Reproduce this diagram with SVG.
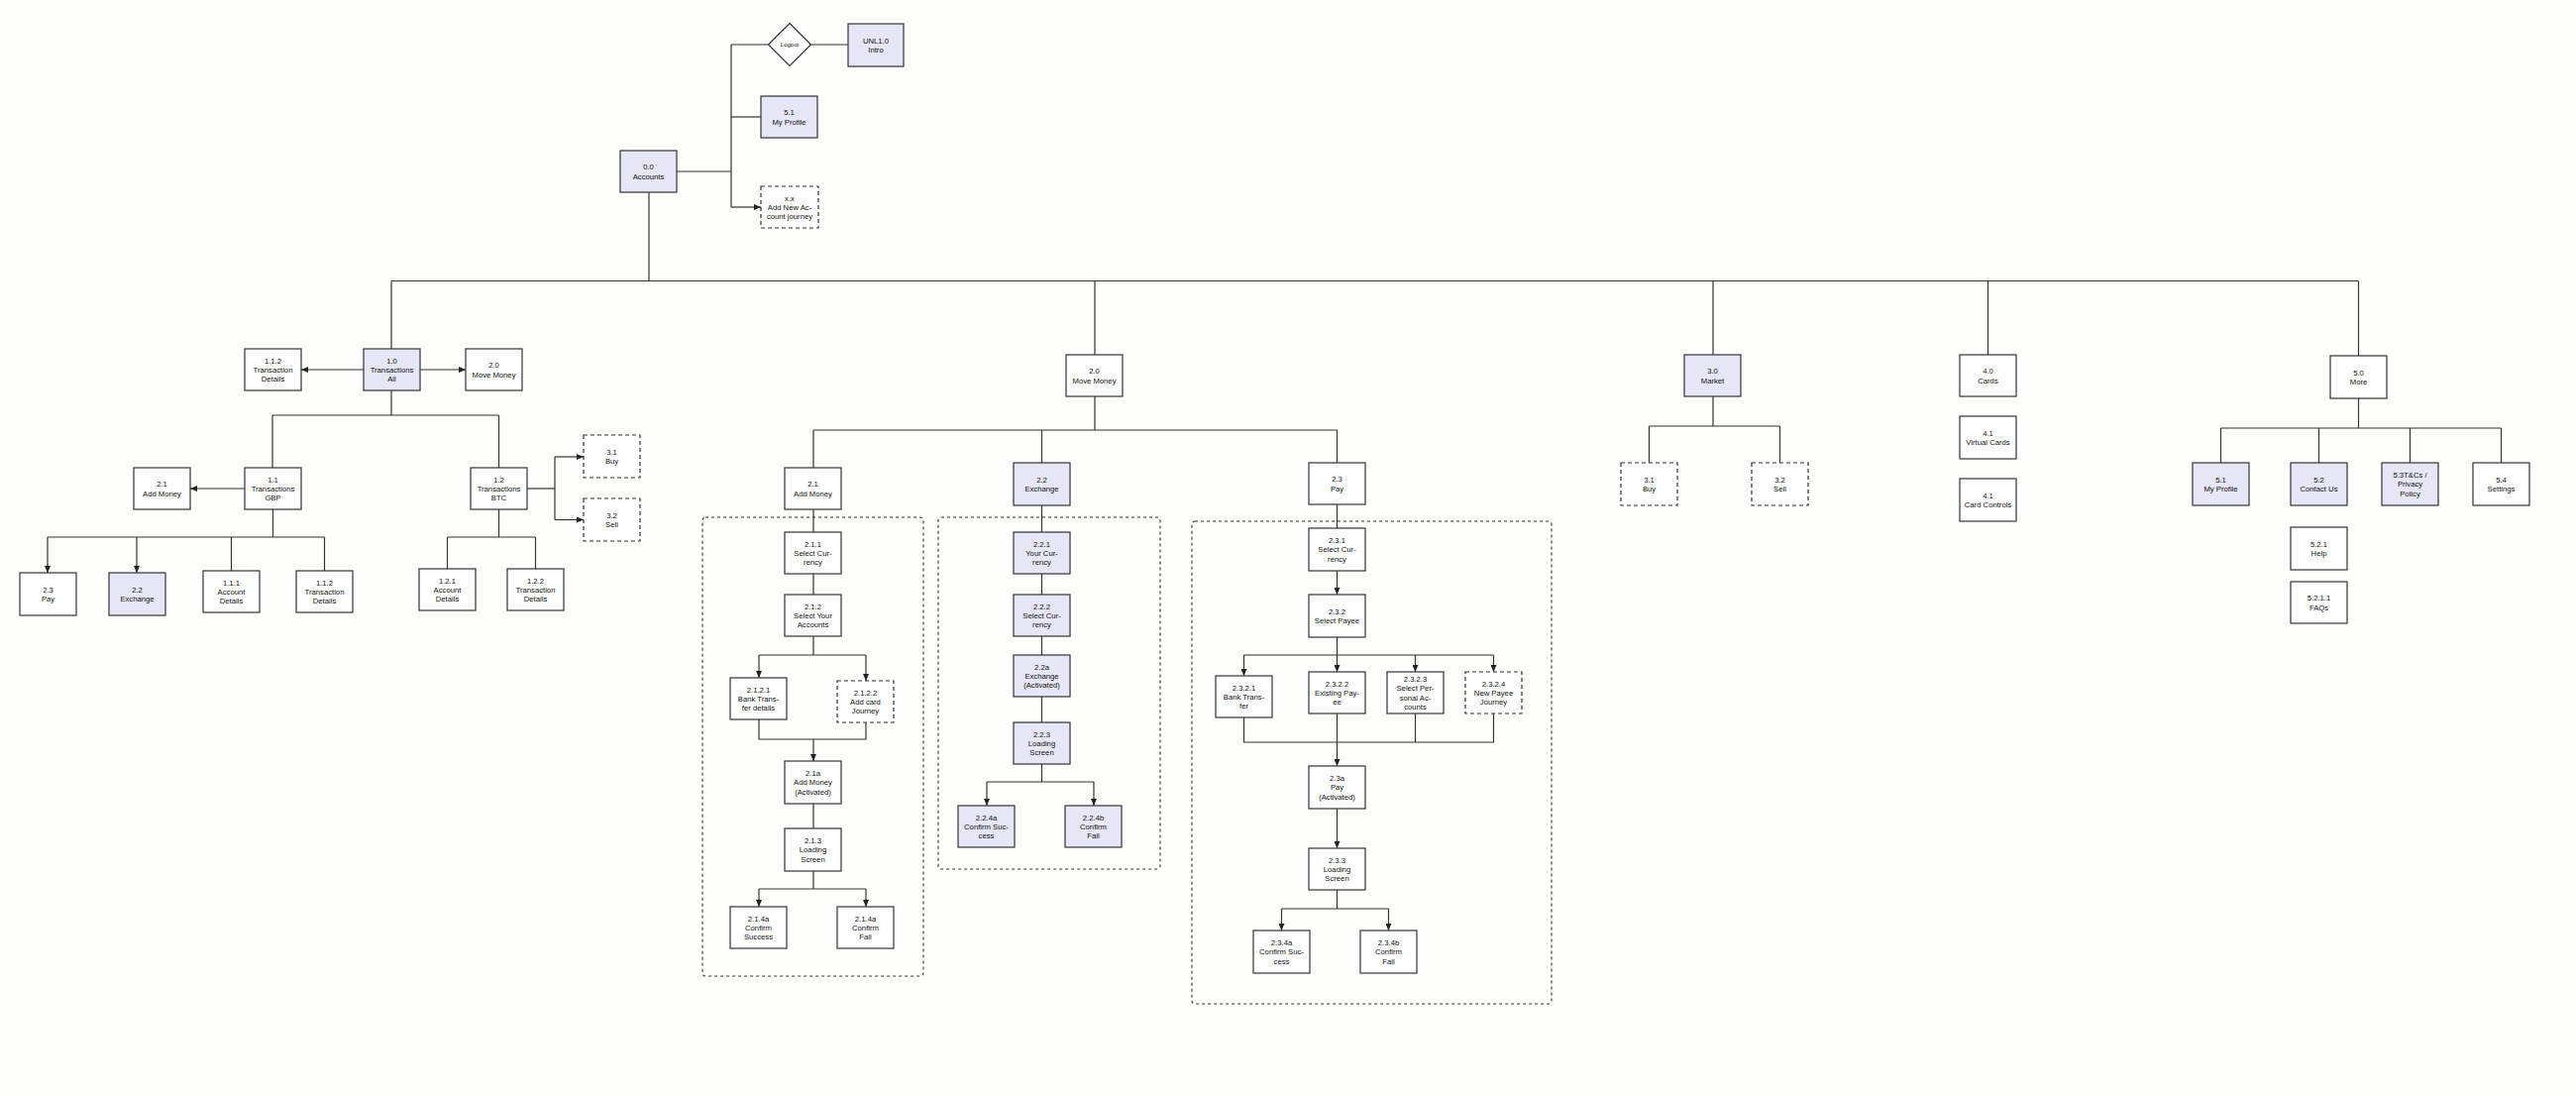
<svg xmlns="http://www.w3.org/2000/svg" width="2600" height="1106" viewBox="0 0 2600 1106">
<style>
.n rect{fill:#ffffff;stroke:#333;stroke-width:1.2}
.n.l rect{fill:#E6E6F7}
.n.d rect{stroke-dasharray:4,3}
.n text{font-family:"Liberation Sans",Arial,Helvetica,sans-serif;font-size:7.7px;fill:#111;text-anchor:middle}
.c path,.c line{fill:none;stroke:#333;stroke-width:1.2}
.c .a{marker-end:url(#ah)}
.box{fill:none;stroke:#333;stroke-width:1.1;stroke-dasharray:3,3}
</style>
<defs>
<marker id="ah" markerUnits="userSpaceOnUse" markerWidth="7" markerHeight="6" refX="7" refY="3" orient="auto">
<path d="M0,0 L7,3 L0,6 z" fill="#222"/>
</marker>
</defs>
<rect x="0" y="0" width="2600" height="1106" fill="#FDFDFB"/>

<g id="containers">
<rect class="box" x="709" y="522" width="223" height="463" rx="3"/>
<rect class="box" x="947" y="522" width="224" height="355" rx="3"/>
<rect class="box" x="1203" y="526" width="363" height="487" rx="3"/>
</g>

<g id="connectors" class="c">
<path d="M683,173 H738"/>
<path d="M738,45 V209"/>
<path d="M738,45 H775.5"/>
<path d="M818.5,45 H856"/>
<path d="M738,118 H768"/>
<path class="a" d="M738,209 H768"/>
<path d="M655,194 V283.5"/>
<path d="M395,283.5 H2380"/>
<path d="M395,283.5 V352"/>
<path d="M1105,283.5 V358"/>
<path d="M1729,283.5 V358"/>
<path d="M2006.5,283.5 V358"/>
<path d="M2380.5,283.5 V359"/>
<path class="a" d="M367,373 H304"/>
<path class="a" d="M423,373 H470"/>
<path d="M395,394 V419"/>
<path d="M275,419 H503.5"/>
<path d="M275,419 V472"/>
<path d="M503.5,419 V472"/>
<path class="a" d="M247,493 H192"/>
<path d="M275.5,514 V542"/>
<path d="M48,542 H327.5"/>
<path class="a" d="M48,542 V578"/>
<path class="a" d="M138,542 V578"/>
<path d="M233.5,542 V576"/>
<path d="M327.5,542 V576"/>
<path d="M503.5,514 V542"/>
<path d="M451.5,542 H540.5"/>
<path d="M451.5,542 V574"/>
<path d="M540.5,542 V574"/>
<path d="M532,493 H560"/>
<path d="M560,461 V524.5"/>
<path class="a" d="M560,461 H589"/>
<path class="a" d="M560,524.5 H589"/>
<path d="M1105,400 V434"/>
<path d="M821,434 H1349.5"/>
<path d="M821,434 V472"/>
<path d="M1051.5,434 V467"/>
<path d="M1349.5,434 V467"/>
<path d="M821,514 V537"/>
<path d="M821,579 V600"/>
<path d="M821,642 V661"/>
<path d="M766,661 H874"/>
<path class="a" d="M766,661 V684"/>
<path class="a" d="M874,661 V687"/>
<path d="M766,726 V746 H874 V729"/>
<path class="a" d="M821,746 V768"/>
<path d="M821,811 V836"/>
<path d="M821,879 V897"/>
<path d="M766,897 H874"/>
<path class="a" d="M766,897 V915"/>
<path class="a" d="M874,897 V915"/>
<path d="M1051.5,510 V537"/>
<path d="M1051.5,579 V600"/>
<path d="M1051.5,642 V661"/>
<path d="M1051.5,703 V729"/>
<path d="M1051.5,771 V789"/>
<path d="M996,789 H1104"/>
<path class="a" d="M996,789 V813"/>
<path class="a" d="M1104,789 V813"/>
<path d="M1349.5,509 V533"/>
<path class="a" d="M1349.5,576 V600"/>
<path d="M1349.5,643 V661"/>
<path d="M1255.5,661 H1507.5"/>
<path class="a" d="M1255.5,661 V682"/>
<path class="a" d="M1349.5,661 V678"/>
<path class="a" d="M1428.5,661 V678"/>
<path class="a" d="M1507.5,661 V678"/>
<path d="M1255.5,724 V749 H1507.5 V720"/>
<path d="M1428.5,720 V749"/>
<path d="M1349.5,720 V749"/>
<path class="a" d="M1349.5,749 V773"/>
<path class="a" d="M1349.5,816 V856"/>
<path d="M1349.5,898 V917"/>
<path d="M1293.5,917 H1401.5"/>
<path class="a" d="M1293.5,917 V939"/>
<path class="a" d="M1401.5,917 V939"/>
<path d="M1729,400 V430"/>
<path d="M1664.5,430 H1796.5"/>
<path d="M1664.5,430 V467"/>
<path d="M1796.5,430 V467"/>
<path d="M2380.5,402 V432"/>
<path d="M2241.5,432 H2524.5"/>
<path d="M2241.5,432 V467"/>
<path d="M2340.5,432 V467"/>
<path d="M2432.5,432 V467"/>
<path d="M2524.5,432 V467"/>
</g>

<g id="logout" class="n">
<path d="M797,23.5 L818.5,45 L797,66.5 L775.5,45 z" fill="#ffffff" stroke="#333" stroke-width="1.2"/>
<text x="797" y="47" style="font-size:6px">Logout</text>
</g>
<g id="n-unl10" class="n l"><rect x="856" y="24" width="56" height="43"/><text x="884" y="43.6">UNL1.0<tspan x="884" dy="9.3">Intro</tspan></text></g>
<g id="n-51-top" class="n l"><rect x="768" y="97" width="57" height="42"/><text x="796.5" y="116.2">5.1<tspan x="796.5" dy="9.3">My Profile</tspan></text></g>
<g id="n-00" class="n l"><rect x="626" y="152" width="57" height="42"/><text x="654.5" y="171.2">0.0<tspan x="654.5" dy="9.3">Accounts</tspan></text></g>
<g id="n-xx" class="n d"><rect x="768" y="188" width="58" height="42"/><text x="797" y="202.5">x.x<tspan x="797" dy="9.3">Add New Ac-</tspan><tspan x="797" dy="9.3">count journey</tspan></text></g>

<g id="n-10" class="n l"><rect x="367" y="352" width="57" height="42"/><text x="395.5" y="366.5">1.0<tspan x="395.5" dy="9.3">Transactions</tspan><tspan x="395.5" dy="9.3">All</tspan></text></g>
<g id="n-112-a" class="n"><rect x="247" y="352" width="57" height="42"/><text x="275.5" y="366.5">1.1.2<tspan x="275.5" dy="9.3">Transaction</tspan><tspan x="275.5" dy="9.3">Details</tspan></text></g>
<g id="n-20-a" class="n"><rect x="470" y="352" width="57" height="42"/><text x="498.5" y="371.2">2.0<tspan x="498.5" dy="9.3">Move Money</tspan></text></g>
<g id="n-11" class="n"><rect x="247" y="472" width="57" height="42"/><text x="275.5" y="486.5">1.1<tspan x="275.5" dy="9.3">Transactions</tspan><tspan x="275.5" dy="9.3">GBP</tspan></text></g>
<g id="n-12" class="n"><rect x="475" y="472" width="57" height="42"/><text x="503.5" y="486.5">1.2<tspan x="503.5" dy="9.3">Transactions</tspan><tspan x="503.5" dy="9.3">BTC</tspan></text></g>
<g id="n-21-a" class="n"><rect x="135" y="472" width="57" height="42"/><text x="163.5" y="491.2">2.1<tspan x="163.5" dy="9.3">Add Money</tspan></text></g>
<g id="n-23-a" class="n"><rect x="20" y="578" width="57" height="43"/><text x="48.5" y="597.7">2.3<tspan x="48.5" dy="9.3">Pay</tspan></text></g>
<g id="n-22-a" class="n l"><rect x="110" y="578" width="57" height="43"/><text x="138.5" y="597.7">2.2<tspan x="138.5" dy="9.3">Exchange</tspan></text></g>
<g id="n-111" class="n"><rect x="205" y="576" width="57" height="42"/><text x="233.5" y="590.5">1.1.1<tspan x="233.5" dy="9.3">Account</tspan><tspan x="233.5" dy="9.3">Details</tspan></text></g>
<g id="n-112-b" class="n"><rect x="299" y="576" width="57" height="42"/><text x="327.5" y="590.5">1.1.2<tspan x="327.5" dy="9.3">Transaction</tspan><tspan x="327.5" dy="9.3">Details</tspan></text></g>
<g id="n-121" class="n"><rect x="423" y="574" width="57" height="42"/><text x="451.5" y="588.5">1.2.1<tspan x="451.5" dy="9.3">Account</tspan><tspan x="451.5" dy="9.3">Details</tspan></text></g>
<g id="n-122" class="n"><rect x="512" y="574" width="57" height="42"/><text x="540.5" y="588.5">1.2.2<tspan x="540.5" dy="9.3">Transaction</tspan><tspan x="540.5" dy="9.3">Details</tspan></text></g>
<g id="n-31-a" class="n d"><rect x="589" y="439" width="57" height="43"/><text x="617.5" y="458.7">3.1<tspan x="617.5" dy="9.3">Buy</tspan></text></g>
<g id="n-32-a" class="n d"><rect x="589" y="503" width="57" height="43"/><text x="617.5" y="522.7">3.2<tspan x="617.5" dy="9.3">Sell</tspan></text></g>

<g id="n-20" class="n"><rect x="1076" y="358" width="57" height="42"/><text x="1104.5" y="377.2">2.0<tspan x="1104.5" dy="9.3">Move Money</tspan></text></g>
<g id="n-21" class="n"><rect x="792" y="472" width="57" height="42"/><text x="820.5" y="491.2">2.1<tspan x="820.5" dy="9.3">Add Money</tspan></text></g>
<g id="n-22" class="n l"><rect x="1023" y="467" width="57" height="43"/><text x="1051.5" y="486.7">2.2<tspan x="1051.5" dy="9.3">Exchange</tspan></text></g>
<g id="n-23" class="n"><rect x="1321" y="467" width="57" height="42"/><text x="1349.5" y="486.2">2.3<tspan x="1349.5" dy="9.3">Pay</tspan></text></g>

<g id="n-211" class="n"><rect x="792" y="537" width="57" height="42"/><text x="820.5" y="551.5">2.1.1<tspan x="820.5" dy="9.3">Select Cur-</tspan><tspan x="820.5" dy="9.3">rency</tspan></text></g>
<g id="n-212" class="n"><rect x="792" y="600" width="57" height="42"/><text x="820.5" y="614.5">2.1.2<tspan x="820.5" dy="9.3">Select Your</tspan><tspan x="820.5" dy="9.3">Accounts</tspan></text></g>
<g id="n-2121" class="n"><rect x="737" y="684" width="57" height="42"/><text x="765.5" y="698.5">2.1.2.1<tspan x="765.5" dy="9.3">Bank Trans-</tspan><tspan x="765.5" dy="9.3">fer details</tspan></text></g>
<g id="n-2122" class="n d"><rect x="845" y="687" width="57" height="42"/><text x="873.5" y="701.5">2.1.2.2<tspan x="873.5" dy="9.3">Add card</tspan><tspan x="873.5" dy="9.3">Journey</tspan></text></g>
<g id="n-21a" class="n"><rect x="792" y="768" width="57" height="43"/><text x="820.5" y="783">2.1a<tspan x="820.5" dy="9.3">Add Money</tspan><tspan x="820.5" dy="9.3">(Activated)</tspan></text></g>
<g id="n-213" class="n"><rect x="792" y="836" width="57" height="43"/><text x="820.5" y="851">2.1.3<tspan x="820.5" dy="9.3">Loading</tspan><tspan x="820.5" dy="9.3">Screen</tspan></text></g>
<g id="n-214a" class="n"><rect x="737" y="915" width="57" height="42"/><text x="765.5" y="929.5">2.1.4a<tspan x="765.5" dy="9.3">Confirm</tspan><tspan x="765.5" dy="9.3">Success</tspan></text></g>
<g id="n-214b" class="n"><rect x="845" y="915" width="57" height="42"/><text x="873.5" y="929.5">2.1.4a<tspan x="873.5" dy="9.3">Confirm</tspan><tspan x="873.5" dy="9.3">Fail</tspan></text></g>

<g id="n-221" class="n l"><rect x="1023" y="537" width="57" height="42"/><text x="1051.5" y="551.5">2.2.1<tspan x="1051.5" dy="9.3">Your Cur-</tspan><tspan x="1051.5" dy="9.3">rency</tspan></text></g>
<g id="n-222" class="n l"><rect x="1023" y="600" width="57" height="42"/><text x="1051.5" y="614.5">2.2.2<tspan x="1051.5" dy="9.3">Select Cur-</tspan><tspan x="1051.5" dy="9.3">rency</tspan></text></g>
<g id="n-22a" class="n l"><rect x="1023" y="661" width="57" height="42"/><text x="1051.5" y="675.5">2.2a<tspan x="1051.5" dy="9.3">Exchange</tspan><tspan x="1051.5" dy="9.3">(Activated)</tspan></text></g>
<g id="n-223" class="n l"><rect x="1023" y="729" width="57" height="42"/><text x="1051.5" y="743.5">2.2.3<tspan x="1051.5" dy="9.3">Loading</tspan><tspan x="1051.5" dy="9.3">Screen</tspan></text></g>
<g id="n-224a" class="n l"><rect x="967" y="813" width="57" height="42"/><text x="995.5" y="827.5">2.2.4a<tspan x="995.5" dy="9.3">Confirm Suc-</tspan><tspan x="995.5" dy="9.3">cess</tspan></text></g>
<g id="n-224b" class="n l"><rect x="1075" y="813" width="57" height="42"/><text x="1103.5" y="827.5">2.2.4b<tspan x="1103.5" dy="9.3">Confirm</tspan><tspan x="1103.5" dy="9.3">Fail</tspan></text></g>

<g id="n-231" class="n"><rect x="1321" y="533" width="57" height="43"/><text x="1349.5" y="548">2.3.1<tspan x="1349.5" dy="9.3">Select Cur-</tspan><tspan x="1349.5" dy="9.3">rency</tspan></text></g>
<g id="n-232" class="n"><rect x="1321" y="600" width="57" height="43"/><text x="1349.5" y="619.7">2.3.2<tspan x="1349.5" dy="9.3">Select Payee</tspan></text></g>
<g id="n-2321" class="n"><rect x="1227" y="682" width="57" height="42"/><text x="1255.5" y="696.5">2.3.2.1<tspan x="1255.5" dy="9.3">Bank Trans-</tspan><tspan x="1255.5" dy="9.3">fer</tspan></text></g>
<g id="n-2322" class="n"><rect x="1321" y="678" width="57" height="42"/><text x="1349.5" y="692.5">2.3.2.2<tspan x="1349.5" dy="9.3">Existing Pay-</tspan><tspan x="1349.5" dy="9.3">ee</tspan></text></g>
<g id="n-2323" class="n"><rect x="1400" y="678" width="57" height="42"/><text x="1428.5" y="687.9">2.3.2.3<tspan x="1428.5" dy="9.3">Select Per-</tspan><tspan x="1428.5" dy="9.3">sonal Ac-</tspan><tspan x="1428.5" dy="9.3">counts</tspan></text></g>
<g id="n-2324" class="n d"><rect x="1479" y="678" width="57" height="42"/><text x="1507.5" y="692.5">2.3.2.4<tspan x="1507.5" dy="9.3">New Payee</tspan><tspan x="1507.5" dy="9.3">Journey</tspan></text></g>
<g id="n-23a" class="n"><rect x="1321" y="773" width="57" height="43"/><text x="1349.5" y="788">2.3a<tspan x="1349.5" dy="9.3">Pay</tspan><tspan x="1349.5" dy="9.3">(Activated)</tspan></text></g>
<g id="n-233" class="n"><rect x="1321" y="856" width="57" height="42"/><text x="1349.5" y="870.5">2.3.3<tspan x="1349.5" dy="9.3">Loading</tspan><tspan x="1349.5" dy="9.3">Screen</tspan></text></g>
<g id="n-234a" class="n"><rect x="1265" y="939" width="57" height="43"/><text x="1293.5" y="954">2.3.4a<tspan x="1293.5" dy="9.3">Confirm Suc-</tspan><tspan x="1293.5" dy="9.3">cess</tspan></text></g>
<g id="n-234b" class="n"><rect x="1373" y="939" width="57" height="43"/><text x="1401.5" y="954">2.3.4b<tspan x="1401.5" dy="9.3">Confirm</tspan><tspan x="1401.5" dy="9.3">Fail</tspan></text></g>

<g id="n-30" class="n l"><rect x="1700" y="358" width="57" height="42"/><text x="1728.5" y="377.2">3.0<tspan x="1728.5" dy="9.3">Market</tspan></text></g>
<g id="n-31" class="n d"><rect x="1636" y="467" width="57" height="43"/><text x="1664.5" y="486.7">3.1<tspan x="1664.5" dy="9.3">Buy</tspan></text></g>
<g id="n-32" class="n d"><rect x="1768" y="467" width="57" height="43"/><text x="1796.5" y="486.7">3.2<tspan x="1796.5" dy="9.3">Sell</tspan></text></g>

<g id="n-40" class="n"><rect x="1978" y="358" width="57" height="42"/><text x="2006.5" y="377.2">4.0<tspan x="2006.5" dy="9.3">Cards</tspan></text></g>
<g id="n-41-v" class="n"><rect x="1978" y="420" width="57" height="43"/><text x="2006.5" y="439.7">4.1<tspan x="2006.5" dy="9.3">Virtual Cards</tspan></text></g>
<g id="n-41-c" class="n"><rect x="1978" y="483" width="57" height="43"/><text x="2006.5" y="502.7">4.1<tspan x="2006.5" dy="9.3">Card Controls</tspan></text></g>

<g id="n-50" class="n"><rect x="2352" y="359" width="57" height="43"/><text x="2380.5" y="378.7">5.0<tspan x="2380.5" dy="9.3">More</tspan></text></g>
<g id="n-51" class="n l"><rect x="2213" y="467" width="57" height="43"/><text x="2241.5" y="486.7">5.1<tspan x="2241.5" dy="9.3">My Profile</tspan></text></g>
<g id="n-52" class="n l"><rect x="2312" y="467" width="57" height="43"/><text x="2340.5" y="486.7">5.2<tspan x="2340.5" dy="9.3">Contact Us</tspan></text></g>
<g id="n-53" class="n l"><rect x="2404" y="467" width="57" height="43"/><text x="2432.5" y="482">5.3T&amp;Cs /<tspan x="2432.5" dy="9.3">Privacy</tspan><tspan x="2432.5" dy="9.3">Policy</tspan></text></g>
<g id="n-54" class="n"><rect x="2496" y="467" width="57" height="43"/><text x="2524.5" y="486.7">5.4<tspan x="2524.5" dy="9.3">Settings</tspan></text></g>
<g id="n-521" class="n"><rect x="2312" y="532" width="57" height="43"/><text x="2340.5" y="551.7">5.2.1<tspan x="2340.5" dy="9.3">Help</tspan></text></g>
<g id="n-5211" class="n"><rect x="2312" y="587" width="57" height="42"/><text x="2340.5" y="606.2">5.2.1.1<tspan x="2340.5" dy="9.3">FAQs</tspan></text></g>
</svg>
